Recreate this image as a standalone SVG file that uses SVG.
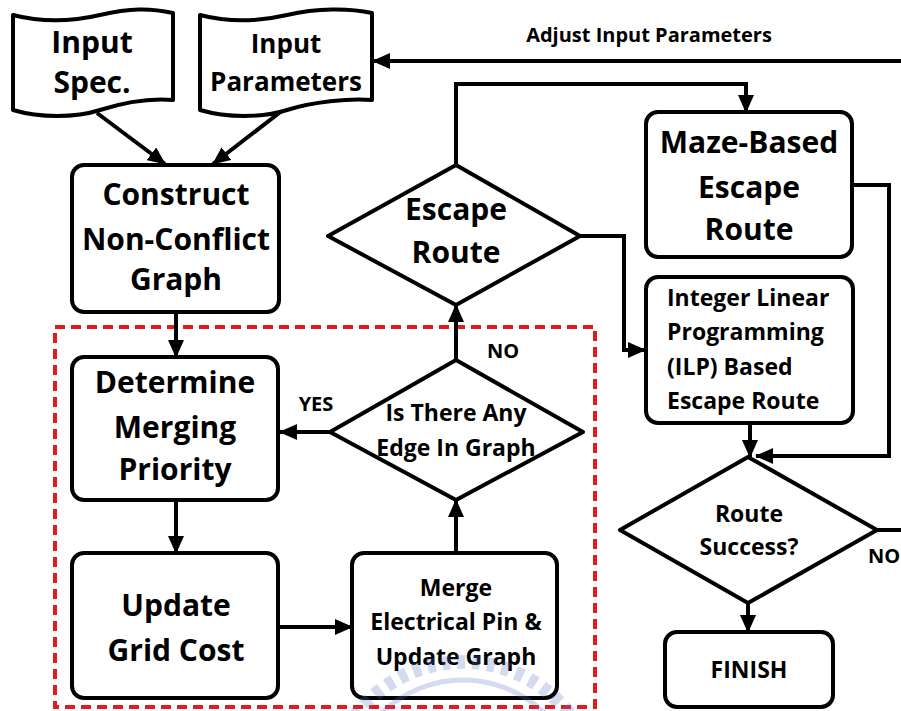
<svg xmlns="http://www.w3.org/2000/svg" width="901" height="711" viewBox="0 0 901 711">
<defs>
<marker id="ah" markerUnits="userSpaceOnUse" markerWidth="18" markerHeight="16" refX="17" refY="8" orient="auto">
<path d="M0,0 L18,8 L0,16 z" fill="#000"/>
</marker>
</defs>
<style>
.box{fill:#fff;stroke:#000;stroke-width:4;stroke-linejoin:round}
.ln{fill:none;stroke:#000;stroke-width:4;marker-end:url(#ah)}
.pl{fill:none;stroke:#000;stroke-width:4}
text{font-family:"Open Sans","Liberation Sans",sans-serif;font-weight:bold;fill:#000;text-anchor:middle}
.big{font-size:30px}
.mid{font-size:23px}
.sm{font-size:20px}
</style>
<rect width="901" height="711" fill="#fff"/>
<rect x="55" y="327" width="540" height="380" fill="none" stroke="#e31a1a" stroke-width="4" stroke-dasharray="10 6"/>
<g id="connectors">
<path class="ln" d="M97,113 L165,164"/>
<path class="ln" d="M283,110 L213,164"/>
<path class="ln" d="M901,61 L373,61"/>
<path class="ln" d="M176,312 L176,357"/>
<path class="ln" d="M176,500 L176,553"/>
<path class="ln" d="M278,627 L352,627"/>
<path class="ln" d="M456,553 L456,500"/>
<path class="ln" d="M330,432 L280,432"/>
<path class="ln" d="M456,360 L456,305"/>
<path class="ln" d="M456,165 L456,84 L746,84 L746,112"/>
<path class="ln" d="M580,236 L624,236 L624,350 L645,350"/>
<path class="ln" d="M750,423 L750,457"/>
<path class="ln" d="M852,185 L889,185 L889,456 L756,456"/>
<path class="pl" d="M877,530 L901,530"/>
<path class="ln" d="M748,603 L748,632"/>
</g>
<g id="input-spec">
<path class="box" d="M13,15 C40,22 70,22 100,15 S150,8 173,13 L173,100 C150,98 125,102 100,110 S40,118 13,110 Z"/>
<text class="big" x="92" y="53">Input</text>
<text class="big" x="92" y="93">Spec.</text>
</g>
<g id="input-parameters">
<path class="box" d="M200,15 C227,22 257,22 287,15 S349,8 372,13 L372,100 C349,98 312,102 287,110 S227,118 200,110 Z"/>
<text x="286" y="53" style="font-size:26px">Input</text>
<text x="286" y="91" style="font-size:26px">Parameters</text>
</g>
<text class="sm" x="649" y="42">Adjust Input Parameters</text>
<g id="construct">
<rect class="box" x="72" y="165" width="207" height="147" rx="12"/>
<text class="big" x="176" y="205">Construct</text>
<text class="big" x="176" y="250">Non-Conflict</text>
<text class="big" x="176" y="290">Graph</text>
</g>
<g id="determine">
<rect class="box" x="72" y="357" width="206" height="143" rx="12"/>
<text class="big" x="175" y="393">Determine</text>
<text class="big" x="175" y="438">Merging</text>
<text class="big" x="175" y="480">Priority</text>
</g>
<g id="update-grid">
<rect class="box" x="72" y="553" width="206" height="145" rx="12"/>
<text class="big" x="176" y="616">Update</text>
<text class="big" x="176" y="661">Grid Cost</text>
</g>
<g id="merge">
<rect class="box" x="352" y="553" width="205" height="145" rx="12"/>
<text class="mid" x="456" y="596">Merge</text>
<text class="mid" x="456" y="630">Electrical Pin &amp;</text>
<text class="mid" x="456" y="665">Update Graph</text>
</g>
<g id="edge-check">
<path class="box" d="M456,360 L583,432 L456,500 L330,432 Z"/>
<text class="mid" x="456" y="421">Is There Any</text>
<text class="mid" x="456" y="456">Edge In Graph</text>
</g>
<text class="sm" x="316" y="411">YES</text>
<text class="sm" x="503" y="358">NO</text>
<g id="escape-route">
<path class="box" d="M456,165 L580,236 L456,305 L328,236 Z"/>
<text class="big" x="456" y="220">Escape</text>
<text class="big" x="456" y="263">Route</text>
</g>
<g id="maze">
<rect class="box" x="646" y="112" width="206" height="145" rx="12"/>
<text class="big" x="749" y="153">Maze-Based</text>
<text class="big" x="749" y="198">Escape</text>
<text class="big" x="749" y="240">Route</text>
</g>
<g id="ilp">
<rect class="box" x="646" y="277" width="207" height="146" rx="12"/>
<text class="mid" x="667" y="306" style="text-anchor:start">Integer Linear</text>
<text class="mid" x="667" y="340" style="text-anchor:start">Programming</text>
<text class="mid" x="667" y="375" style="text-anchor:start">(ILP) Based</text>
<text class="mid" x="667" y="409" style="text-anchor:start">Escape Route</text>
</g>
<g id="route-success">
<path class="box" d="M748,457 L877,530 L748,603 L620,530 Z"/>
<text class="mid" x="749" y="522">Route</text>
<text class="mid" x="749" y="555">Success?</text>
</g>
<text class="sm" x="868" y="563" style="text-anchor:start">NO</text>
<g id="finish">
<rect class="box" x="665" y="632" width="168" height="75" rx="12"/>
<text class="mid" x="749" y="678">FINISH</text>
</g>
<g id="watermark" opacity="0.25" fill="none">
<circle cx="463" cy="797" r="135" stroke="#5a74c0" stroke-width="14" stroke-dasharray="8 7"/>
<circle cx="463" cy="797" r="117" stroke="#5a74c0" stroke-width="5"/>
</g>
</svg>
